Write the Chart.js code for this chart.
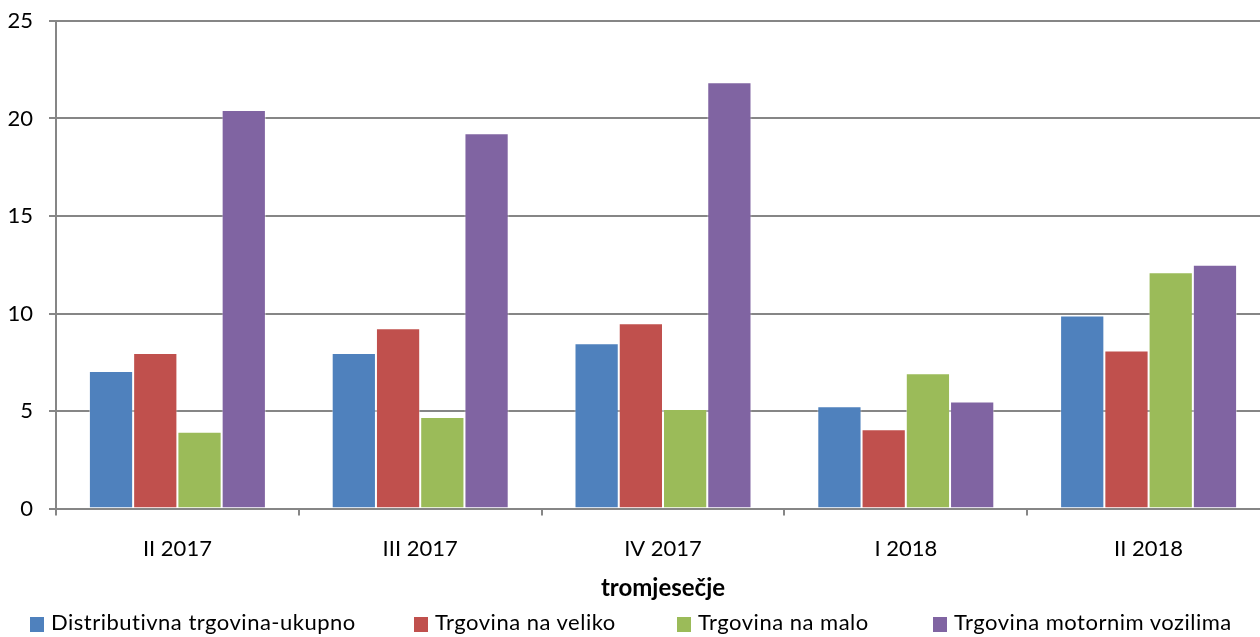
<!DOCTYPE html>
<html>
<head>
<meta charset="utf-8">
<script src="https://cdn.jsdelivr.net/npm/chart.js@4.4.1/dist/chart.umd.min.js"></script>
<style>
  html, body { margin: 0; padding: 0; background: #fff; overflow: hidden; }
  #wrap { position: relative; width: 1272px; height: 637px; }
  #legend { position: absolute; left: 0; top: 612px; width: 1260px; height: 20px; font-family: Lato, sans-serif; font-size: 22px; letter-spacing: 0.5px; color: #000; }
  .item { position: absolute; top: 0; white-space: nowrap; line-height: 20px; }
  .box { display: inline-block; width: 14px; height: 15px; vertical-align: -2px; margin-right: 7px; }
</style>
</head>
<body>
<div id="wrap">
  <canvas id="myChart" width="1272" height="637"></canvas>
  <div id="legend"></div>
</div>
<script>
var categories = ['II 2017', 'III 2017', 'IV 2017', 'I 2018', 'II 2018'];
var seriesNames = ['Distributivna trgovina-ukupno', 'Trgovina na veliko', 'Trgovina na malo', 'Trgovina motornim vozilima'];
var ukupno = [7.05, 7.97, 8.48, 5.25, 9.9];
var naVeliko = [7.97, 9.25, 9.5, 4.07, 8.1];
var naMalo = [3.94, 4.69, 5.1, 6.93, 12.12];
var motornimVozilima = [20.43, 19.25, 21.86, 5.49, 12.5];
var colors = ['#4F81BD', '#C0504D', '#9BBB59', '#8064A2'];
var yTicks = [0, 5, 10, 15, 20, 25];
var legendLeft = [30, 414, 677, 933];

var allData = [ukupno, naVeliko, naMalo, motornimVozilima];
var datasets = [];
for (var i = 0; i < seriesNames.length; i++) {
    datasets.push({
        label: seriesNames[i],
        data: allData[i],
        backgroundColor: colors[i],
        borderColor: 'rgba(255,255,255,0.45)',
        borderWidth: 1,
        categoryPercentage: 0.729,
        barPercentage: 1.0
    });
}

var ctx = document.getElementById('myChart').getContext('2d');
var chart = new Chart(ctx, {
    type: 'bar',
    data: {
        labels: categories,
        datasets: datasets
    },
    options: {
        responsive: false,
        animation: false,
        layout: { padding: { top: 21, right: 2, bottom: 0, left: 0 } },
        plugins: {
            legend: { display: false },
            tooltip: { enabled: false }
        },
        scales: {
            x: {
                grid: { drawOnChartArea: false, drawTicks: true, tickLength: 7, color: '#868686', lineWidth: 2, offset: true },
                border: { display: true, color: '#868686', width: 2 },
                ticks: { color: '#000', font: { family: 'Lato', size: 22 }, padding: 20 },
                title: { display: true, text: 'tromjesečje', color: '#000', font: { family: 'Lato', size: 24, weight: 'bold' }, padding: { top: 0, bottom: 34 } },
                afterFit: function (scale) { scale.height = 128.5; scale.paddingLeft = 0; scale.paddingRight = 0; }
            },
            y: {
                min: 0,
                max: 25,
                afterBuildTicks: function (scale) { scale.ticks = yTicks.map(function (v) { return { value: v }; }); },
                grid: { color: '#868686', lineWidth: 2, tickLength: 7, drawTicks: true },
                border: { display: true, color: '#868686', width: 2 },
                ticks: { color: '#000', font: { family: 'Lato', size: 22 }, padding: 16 },
                afterFit: function (scale) { scale.width = 56; scale.paddingTop = 0; scale.paddingBottom = 0; }
            }
        }
    }
});

// legend under the chart
var legend = document.getElementById('legend');
for (var j = 0; j < seriesNames.length; j++) {
    var item = document.createElement('div');
    item.className = 'item';
    item.style.left = legendLeft[j] + 'px';
    item.innerHTML = '<span class="box" style="background:' + colors[j] + '"></span>' + seriesNames[j];
    legend.appendChild(item);
}
</script>
</body>
</html>
